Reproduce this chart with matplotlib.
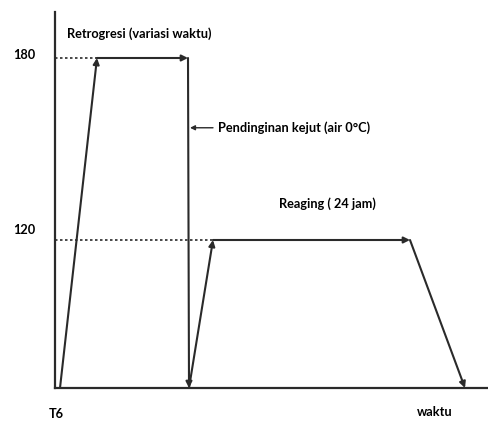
import numpy as np
import matplotlib.pyplot as plt

# schematic heat-treatment cycle (time in arbitrary units, temperature in C)
waktu = [0, 37, 128, 129, 153, 350, 405]
suhu = [0, 180, 180, 0, 120, 120, 0]
level_ticks = [120, 180]
level_labels = ['120', '180']

# the drawing is not to scale: map temperature to drawing height piecewise
temp_anchor = [0, 120, 180, 206]
draw_anchor = [0, 148, 330, 376]

def fwd(v):
    return np.interp(v, temp_anchor, draw_anchor)

def inv(v):
    return np.interp(v, draw_anchor, temp_anchor)

plt.rcParams['font.family'] = ['Lato', 'DejaVu Sans']
plt.rcParams['font.weight'] = 'bold'

fig = plt.figure(figsize=(4.88, 4.21), dpi=100)
ax = fig.add_axes([55 / 488, 33 / 421, 433 / 488, 376 / 421])
ax.set_yscale('function', functions=(fwd, inv))
ax.set_xlim(-5, 428)
ax.set_ylim(0, 206)

ink = '#2a2a2a'
for side in ['top', 'right']:
    ax.spines[side].set_visible(False)
for side in ['left', 'bottom']:
    ax.spines[side].set_color(ink)
    ax.spines[side].set_linewidth(1.6)

# the cycle, each leg drawn as an arrow
for i in range(len(waktu) - 1):
    ax.annotate('', xy=(waktu[i + 1], suhu[i + 1]), xytext=(waktu[i], suhu[i]),
                arrowprops=dict(arrowstyle='-|>', color=ink, lw=1.5,
                                mutation_scale=9, shrinkA=0, shrinkB=0))

# dotted guide lines to the axis
ax.plot([-5, waktu[1]], [180, 180], ls=(0, (1.5, 1.5)), color=ink, lw=1.2)
ax.plot([-5, waktu[4]], [120, 120], ls=(0, (1.5, 1.5)), color=ink, lw=1.2)

fs = 9.2
ax.set_xticks([])
ax.set_yticks([])
# level labels sit a little above their guide lines
for lvl, lab, dy in zip(level_ticks, level_labels, [7, 2]):
    ax.annotate(lab, xy=(0, lvl), xycoords=('axes fraction', 'data'),
                xytext=(-14, dy), textcoords='offset points',
                fontsize=fs, ha='right', va='center', annotation_clip=False)

ax.text(7, 194, 'Retrogresi (variasi waktu)', fontsize=fs, va='center')
ax.annotate('', xy=(130, 157), xytext=(153, 157),
            arrowprops=dict(arrowstyle='-|>', color=ink, lw=1.0,
                            mutation_scale=7, shrinkA=0, shrinkB=0))
ax.text(158, 157, 'Pendinginan kejut (air 0°C)', fontsize=fs, va='center')
ax.text(219, 132, 'Reaging ( 24 jam)', fontsize=fs, va='center')
ax.annotate('T6', xy=(-4, 0), xytext=(0, -18.5), textcoords='offset points',
            fontsize=fs, ha='center', va='center', annotation_clip=False)
ax.annotate('waktu', xy=(375, 0), xytext=(0, -17), textcoords='offset points',
            fontsize=fs, ha='center', va='center', annotation_clip=False)

fig.savefig('out.png', dpi=100)
